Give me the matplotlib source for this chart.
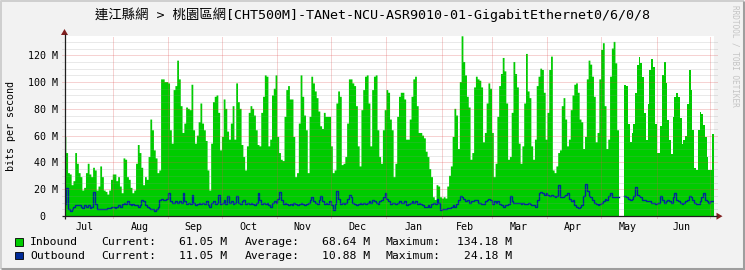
import numpy as np
import pandas as pd
import matplotlib
matplotlib.use("Agg")
import matplotlib.pyplot as plt
import matplotlib.dates as mdates
from matplotlib.patches import Polygon, Rectangle

# ---------------- data (Mbit/s, one value per day) ----------------
start_date = "2024-07-05"
nan = float("nan")

inbound_mbps = [
    59, 47, 32, 31, 23, 26, 47, 39, 32, 29,
    19, 21, 32, 39, 31, 29, 36, 34, 19, 22,
    37, 29, 19, 18, 16, 19, 27, 31, 31, 26,
    29, 22, 17, 43, 42, 29, 27, 21, 17, 19,
    39, 53, 47, 36, 23, 29, 27, 44, 72, 64,
    49, 43, 32, 34, 102, 102, 100, 100, 99, 64,
    54, 94, 97, 116, 102, 82, 62, 69, 81, 80,
    79, 98, 64, 54, 60, 70, 84, 69, 64, 56,
    34, 19, 54, 85, 89, 90, 77, 49, 59, 87,
    80, 63, 57, 69, 82, 57, 99, 85, 80, 53,
    44, 34, 52, 77,
    82, 80, 75, 64, 53, 52,
    77, 89, 105, 104, 52, 57, 90, 95, 105, 59,
    47, 42, 41, 74, 94, 97, 87, 87, 59, 29,
    32, 69, 105, 89, 75, 64, 32, 74, 104, 99,
    93, 88, 78, 67, 65, 77, 74, 74, 74, 52,
    32, 34, 84, 93, 89, 38, 39, 44, 69, 102,
    102, 99, 97, 82, 52, 37, 79, 94, 104, 105,
    84, 52, 94, 104, 105, 64, 44, 39, 64, 79,
    94, 92, 72, 64, 29, 39, 74, 89, 92, 92,
    87, 57, 57, 72, 89, 102, 104, 82, 62, 62,
    60, 58, 48, 44, 35, 29, 14, 12, 23, 22,
    14, 13, 14, 13, 22, 30, 37, 59, 80, 75,
    50, 100, 134.18, 115, 105, 89, 81, 42, 47, 96,
    104, 102, 101, 96, 55, 62, 84, 99, 95, 62,
    29, 39, 74, 97, 106, 118, 108, 84, 42, 44,
    77, 115, 106, 96, 54, 39, 52, 84, 121, 93,
    88, 52, 42, 57, 97, 104, 110, 109, 92, 57,
    77, 109, 119, 34, 32, 37, 47, 49, 82, 88,
    72, 52, 57, 79, 90, 98, 99, 92, 72, 70,
    50, 59, 102, 116, 113, 104, 89, 55, 62, 102,
    124, 129, 82, 50, 57, 104, 125, 130, 114, 64,
    nan, nan, nan,
    98, 97, 69, 55, 62, 69, 92,
    113, 119, 114, 104, 77, 57, 84, 109, 117, 111,
    69, 47, 47, 67, 105, 115, 99, 72, 57, 46,
    74, 89, 92, 89, 73, 54, 57, 60, 84, 109,
    94, 64, 36, 34, 64, 78, 76, 68, 59, 44,
    34, 34, 61.05,
]

outbound_mbps = [
    9, 21, 5, 4, 5, 7, 8, 8, 8, 7,
    6, 8, 7, 8, 6, 7, 18, 9, 5, 5,
    5, 5, 5, 5, 6, 6, 7, 7, 6, 7,
    8, 7, 9, 10, 9, 11, 9, 8, 9, 8,
    8, 7, 8, 12, 11, 8, 7, 6, 5, 5,
    4, 5, 7, 12, 13, 12, 12, 13, 17, 11,
    10, 10, 11, 10, 11, 10, 17, 11, 9, 10,
    9, 16, 10, 8, 9, 10, 9, 10, 9, 11,
    8, 7, 10, 11, 9, 10, 16, 9, 10, 12,
    9, 15, 10, 11, 9, 10, 15, 10, 9, 11,
    12, 9, 10, 9,
    10, 9, 8, 10, 17, 12,
    9, 10, 9, 10, 8, 7, 10, 11, 10, 13,
    18, 12, 9, 10, 9, 8, 9, 8, 10, 9,
    8, 9, 10, 9, 8, 9, 10, 12, 14, 11,
    10, 9, 12, 15, 11, 9, 10, 9, 11, 8,
    4.5, 9, 19, 13, 9, 10, 9, 10, 13, 16,
    14, 10, 9, 8, 9, 10, 9, 10, 9, 10,
    11, 10, 12, 11, 10, 9, 11, 12, 14, 17,
    13, 11, 9, 10, 10, 9, 10, 11, 10, 10,
    11, 8, 9, 10, 11, 10, 11, 9, 10, 9,
    8, 7, 7, 8, 7, 9, 10, 9, 13, 10,
    4.5, 5, 5, 5, 6, 6, 7, 8, 7, 9,
    12, 15, 14, 13, 11, 12, 10, 11, 11, 12,
    12, 10, 10, 9, 9, 11, 12, 13, 12, 9,
    11, 10, 11, 9, 8, 7, 8, 8, 9, 15,
    11, 10, 10, 10, 10, 9, 10, 9, 9, 10,
    9, 8, 8, 7, 12, 17, 18, 17, 16, 17,
    16, 15, 16, 15, 14, 15, 23, 14, 14, 15,
    16, 17, 13, 11, 12, 8, 7, 6, 7, 8,
    15, 24.18, 19, 15, 14, 12, 10, 9, 8, 9,
    10, 11, 13, 12, 15, 17, 14, 14, 14, 14,
    nan, nan, nan,
    15, 14, 13, 12, 13, 15, 22,
    16, 15, 14, 12, 12, 11, 11, 11, 10, 10,
    9, 10, 10, 15, 12, 10, 11, 12, 11, 10,
    14, 17, 12, 11, 10, 9, 10, 11, 12, 15,
    14, 12, 10, 9, 9, 11, 14, 17, 12, 11,
    10, 11, 11.05,
]

month_starts = ["2024-08-01", "2024-09-01", "2024-10-01", "2024-11-01",
                "2024-12-01", "2025-01-01", "2025-02-01", "2025-03-01",
                "2025-04-01", "2025-05-01", "2025-06-01", "2025-07-01"]
month_label_dates = ["2024-07-16", "2024-08-16", "2024-09-15", "2024-10-16",
                     "2024-11-15", "2024-12-16", "2025-01-16", "2025-02-14",
                     "2025-03-16", "2025-04-15", "2025-05-16", "2025-06-15"]
month_labels = ["Jul", "Aug", "Sep", "Oct", "Nov", "Dec",
                "Jan", "Feb", "Mar", "Apr", "May", "Jun"]

y_ticks = [0, 20, 40, 60, 80, 100, 120]
y_tick_labels = ["0  ", "20 M", "40 M", "60 M", "80 M", "100 M", "120 M"]
y_minor = [v for v in range(5, 135, 5) if v % 20 != 0]
y_top = 134.4

title = "連江縣網 > 桃園區網[CHT500M]-TANet-NCU-ASR9010-01-GigabitEthernet0/6/0/8"
legend_rows = [
    ("Inbound", "61.05 M", "68.64 M", "134.18 M"),
    ("Outbound", "11.05 M", "10.88 M", "24.18 M"),
]

GREEN = "#00CC00"
BLUE = "#002A97"
MONO = ["DejaVu Sans Mono", "Noto Sans CJK TC"]

# ---------------- figure ----------------
W, H = 745, 270
fig = plt.figure(figsize=(W / 100, H / 100), dpi=100, facecolor="#F2F2F2")

L, R, T, B = 64.5, 714.0, 36.0, 216.0
ax = fig.add_axes([L / W, 1 - B / H, (R - L) / W, (B - T) / H])
ax.set_facecolor("white")
for s in ax.spines.values():
    s.set_visible(False)

dates = pd.date_range(start_date, periods=len(inbound_mbps), freq="D")
xd = mdates.date2num(dates)
x_edges = np.append(xd, xd[-1] + 1.0)
xs = np.repeat(x_edges, 2)[1:-1]
inb = np.repeat(np.array(inbound_mbps, float), 2)
outb = np.repeat(np.array(outbound_mbps, float), 2)

ax.fill_between(xs, 0, inb, color=GREEN, linewidth=0, zorder=2)
ax.plot(xs, outb, color=BLUE, linewidth=1.0, zorder=3, solid_joinstyle="miter")

ax.set_xlim(xd[0], xd[0] + 363.1)
ax.set_ylim(0, y_top)

# grid (drawn on top, semi-transparent, like rrdtool)
minor_c = (0.56, 0.56, 0.56, 0.38)
major_c = (0.87, 0.31, 0.31, 0.5)
for v in y_minor:
    ax.axhline(v, xmin=-0.004, xmax=1.005, color=minor_c, lw=0.72,
               ls=(0, (1, 1)), zorder=4, clip_on=False)
for v in y_ticks[1:]:
    ax.axhline(v, xmin=-0.004, xmax=1.005, color=major_c, lw=0.72,
               ls=(0, (1, 1)), zorder=4, clip_on=False)
for m in month_starts:
    ax.axvline(mdates.date2num(pd.Timestamp(m)), ymin=-0.012, ymax=1.0,
               color=major_c, lw=0.72, ls=(0, (1, 1)), zorder=4, clip_on=False)

# ticks / labels
ax.set_yticks(y_ticks)
ax.set_yticklabels(y_tick_labels, fontfamily=MONO, fontsize=7.2)
ax.tick_params(axis="y", length=0, pad=5.0, colors="#000000")
ax.set_xticks([mdates.date2num(pd.Timestamp(m)) for m in month_label_dates])
ax.set_xticklabels(month_labels, fontfamily=MONO, fontsize=7.2)
ax.tick_params(axis="x", length=0, pad=4.0, colors="#000000")

# ---------------- decorations in pixel coordinates ----------------
ov = fig.add_axes([0, 0, 1, 1], facecolor="none")
ov.set_xlim(0, W)
ov.set_ylim(H, 0)
ov.axis("off")

# 3D border
ov.plot([0.5, 0.5, W - 1], [H - 1, 0.5, 0.5], color="#CFCFCF", lw=1.4,
        solid_capstyle="butt")
ov.plot([1, W - 1, W - 1], [H - 1.2, H - 1.2, 0.5], color="#9E9E9E", lw=2.2,
        solid_capstyle="butt")

# axes lines with arrows
AX_C = "#1F1F1F"
AR_C = "#801F1F"
ov.plot([61.5, 717], [216.2, 216.2], color=AX_C, lw=0.9, solid_capstyle="butt")
ov.plot([64.5, 64.5], [219, 34], color=AX_C, lw=0.9, solid_capstyle="butt")
ov.add_patch(Polygon([[716.5, 212.7], [722.5, 216.2], [716.5, 219.7]],
                     closed=True, color=AR_C, lw=0))
ov.add_patch(Polygon([[61.0, 35.0], [64.5, 29.0], [68.0, 35.0]],
                     closed=True, color=AR_C, lw=0))

# title
ov.text(372.5, 14.5, title, ha="center", va="center", fontsize=9.65,
        family=MONO, color="#000000")

# y axis label
ov.text(11.5, 126, "bits per second", rotation=90, ha="center", va="center",
        fontsize=7.2, family=MONO, color="#000000")

# watermark
ov.text(735.5, 5, "RRDTOOL / TOBI OETIKER", rotation=-90, ha="center",
        va="top", fontsize=5.6, family=MONO, color="#C4C4C4")

# legend
row_y = [242.3, 256.0]
for i, (name, cur, avg, mx) in enumerate(legend_rows):
    y = row_y[i]
    ov.add_patch(Rectangle((15.3, y - 4.0), 7.4, 7.4,
                           facecolor=[GREEN, BLUE][i], edgecolor="#000000",
                           lw=0.6))
    kw = dict(va="center", fontsize=8.2, family=MONO, color="#000000")
    ov.text(30.0, y, name, ha="left", **kw)
    ov.text(101.5, y, "Current:", ha="left", **kw)
    ov.text(227.0, y, cur, ha="right", **kw)
    ov.text(244.5, y, "Average:", ha="left", **kw)
    ov.text(370.0, y, avg, ha="right", **kw)
    ov.text(386.0, y, "Maximum:", ha="left", **kw)
    ov.text(512.0, y, mx, ha="right", **kw)

fig.savefig("out.png", dpi=100, facecolor=fig.get_facecolor())
